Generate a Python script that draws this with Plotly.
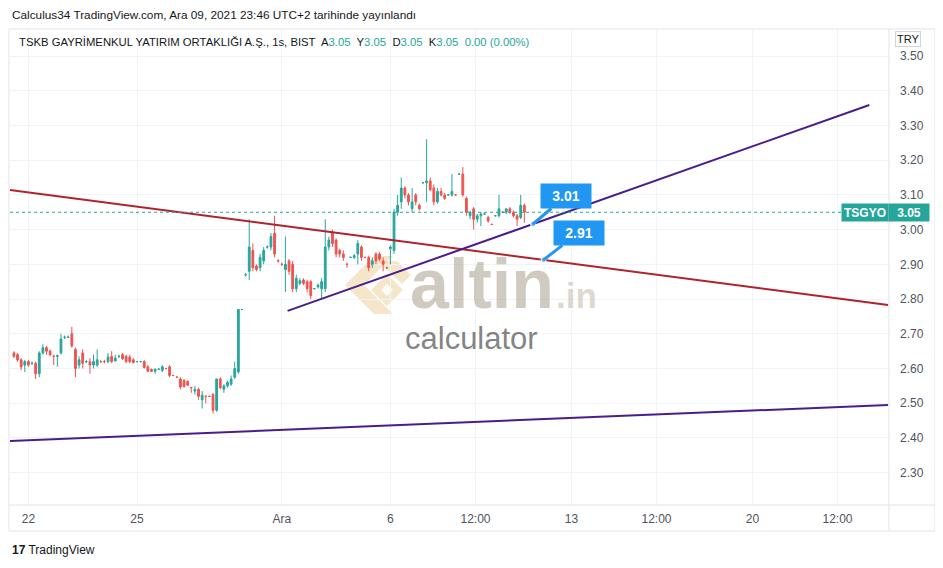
import plotly.graph_objects as go

# ---------------- data (hourly bars) ----------------
opens = [2.645, 2.64, 2.625, 2.61, 2.62, 2.615, 2.615, 2.585, 2.645, 2.66,
         2.65, 2.635, 2.635, 2.645, 2.69, 2.69, 2.70, 2.655, 2.61, 2.645,
         2.62, 2.62, 2.61, 2.61, 2.62, 2.62, 2.62, 2.635, 2.622, 2.635,
         2.64, 2.635, 2.633, 2.625, 2.62, 2.62, 2.62, 2.605, 2.597, 2.592,
         2.598, 2.595, 2.60, 2.605, 2.58, 2.575, 2.57, 2.565, 2.563, 2.545,
         2.535, 2.54, 2.51, 2.52, 2.52, 2.525, 2.48, 2.57, 2.54, 2.55,
         2.555, 2.575, 2.59, 2.77, 2.87, 2.88, 2.94, 2.895, 2.89, 2.91,
         2.95, 2.95, 2.99, 2.91, 2.90, 2.885, 2.91, 2.90, 2.83, 2.845,
         2.855, 2.85, 2.85, 2.83, 2.835, 2.83, 2.83, 2.95, 2.99, 2.97,
         2.94, 2.93, 2.90, 2.92, 2.92, 2.93, 2.95, 2.92, 2.92, 2.90,
         2.93, 2.93, 2.91, 2.89, 2.945, 2.94, 3.05, 3.08, 3.12, 3.10,
         3.06, 3.10, 3.07, 3.135, 3.135, 3.14, 3.12, 3.08, 3.11, 3.10,
         3.10, 3.10, 3.10, 3.16, 3.16, 3.09, 3.04, 3.06, 3.03, 3.04,
         3.045, 3.035, 3.015, 3.04, 3.04, 3.05, 3.05, 3.06, 3.05, 3.04,
         3.035, 3.07]
highs = [2.65, 2.645, 2.63, 2.625, 2.625, 2.62, 2.62, 2.65, 2.67, 2.665,
         2.655, 2.64, 2.64, 2.70, 2.695, 2.695, 2.72, 2.66, 2.635, 2.655,
         2.625, 2.63, 2.64, 2.655, 2.625, 2.625, 2.645, 2.65, 2.64, 2.64,
         2.645, 2.64, 2.64, 2.63, 2.622, 2.622, 2.625, 2.61, 2.60, 2.60,
         2.60, 2.61, 2.602, 2.61, 2.582, 2.577, 2.575, 2.57, 2.565, 2.547,
         2.55, 2.545, 2.535, 2.522, 2.522, 2.53, 2.57, 2.575, 2.555, 2.565,
         2.58, 2.62, 2.77, 2.772, 2.875, 3.03, 2.96, 2.90, 2.93, 2.95,
         2.955, 2.99, 3.04, 2.915, 2.905, 2.98, 2.915, 2.91, 2.87, 2.86,
         2.86, 2.855, 2.855, 2.832, 2.845, 2.86, 3.03, 2.98, 3.00, 2.975,
         2.945, 2.94, 2.905, 2.922, 2.93, 2.97, 2.955, 2.922, 2.925, 2.92,
         2.935, 2.935, 2.92, 2.892, 2.955, 3.06, 3.10, 3.15, 3.125, 3.105,
         3.12, 3.105, 3.075, 3.137, 3.26, 3.15, 3.13, 3.12, 3.12, 3.105,
         3.102, 3.16, 3.102, 3.162, 3.18, 3.095, 3.055, 3.065, 3.045, 3.05,
         3.047, 3.04, 3.017, 3.042, 3.10, 3.052, 3.06, 3.065, 3.055, 3.045,
         3.10, 3.075]
lows = [2.63, 2.62, 2.595, 2.59, 2.605, 2.61, 2.57, 2.575, 2.64, 2.64,
        2.635, 2.61, 2.605, 2.64, 2.685, 2.69, 2.66, 2.575, 2.60, 2.60,
        2.615, 2.585, 2.60, 2.605, 2.615, 2.615, 2.615, 2.615, 2.62, 2.63,
        2.625, 2.615, 2.615, 2.615, 2.618, 2.618, 2.60, 2.59, 2.59, 2.585,
        2.596, 2.59, 2.598, 2.575, 2.578, 2.573, 2.54, 2.545, 2.55, 2.53,
        2.525, 2.51, 2.485, 2.50, 2.518, 2.47, 2.475, 2.54, 2.53, 2.545,
        2.55, 2.57, 2.585, 2.768, 2.865, 2.855, 2.88, 2.88, 2.88, 2.90,
        2.945, 2.94, 2.92, 2.905, 2.895, 2.82, 2.87, 2.82, 2.82, 2.84,
        2.84, 2.82, 2.80, 2.828, 2.83, 2.80, 2.82, 2.94, 2.95, 2.92,
        2.92, 2.91, 2.89, 2.918, 2.915, 2.90, 2.91, 2.918, 2.88, 2.89,
        2.90, 2.91, 2.88, 2.888, 2.90, 2.93, 3.04, 3.06, 3.09, 3.07,
        3.05, 3.07, 3.055, 3.133, 3.08, 3.11, 3.07, 3.075, 3.095, 3.085,
        3.098, 3.095, 3.098, 3.158, 3.095, 3.04, 3.03, 3.00, 3.02, 3.01,
        3.043, 3.02, 3.013, 3.038, 3.035, 3.048, 3.045, 3.045, 3.035, 3.01,
        3.03, 3.02]
closes = [2.635, 2.625, 2.605, 2.62, 2.61, 2.615, 2.585, 2.645, 2.66, 2.65,
          2.64, 2.635, 2.637, 2.685, 2.69, 2.69, 2.665, 2.60, 2.625, 2.615,
          2.62, 2.61, 2.62, 2.625, 2.62, 2.62, 2.633, 2.62, 2.63, 2.635,
          2.628, 2.62, 2.62, 2.617, 2.62, 2.62, 2.603, 2.592, 2.592, 2.598,
          2.598, 2.605, 2.60, 2.58, 2.58, 2.575, 2.547, 2.548, 2.552, 2.545,
          2.54, 2.52, 2.523, 2.52, 2.52, 2.48, 2.57, 2.545, 2.55, 2.56,
          2.57, 2.60, 2.77, 2.77, 2.87, 2.95, 2.89, 2.885, 2.92, 2.94,
          2.95, 2.98, 2.93, 2.91, 2.90, 2.90, 2.88, 2.83, 2.86, 2.853,
          2.845, 2.83, 2.81, 2.83, 2.84, 2.85, 2.95, 2.97, 2.96, 2.93,
          2.93, 2.92, 2.90, 2.92, 2.925, 2.96, 2.92, 2.92, 2.89, 2.91,
          2.91, 2.915, 2.90, 2.89, 2.95, 3.05, 3.07, 3.12, 3.10, 3.08,
          3.08, 3.08, 3.06, 3.135, 3.14, 3.115, 3.08, 3.11, 3.10, 3.09,
          3.10, 3.11, 3.10, 3.16, 3.10, 3.05, 3.05, 3.03, 3.04, 3.045,
          3.045, 3.025, 3.015, 3.04, 3.06, 3.05, 3.06, 3.05, 3.04, 3.03,
          3.07, 3.05]
first_bar = -4                      # bar index of first candle (0 = 22 Kas 10:00)
bars = list(range(first_bar, first_bar + len(closes)))

# time axis (bar index, 10 bars per session)
tick_idx = [0, 30, 70, 100, 123.5, 150, 173.5, 200, 223.5]
tick_txt = ["22", "25", "Ara", "6", "12:00", "13", "12:00", "20", "12:00"]
price_ticks = [2.30, 2.40, 2.50, 2.60, 2.70, 2.80, 2.90, 3.00, 3.10, 3.20, 3.30, 3.40, 3.50]

# drawn trend lines (bar index, price)
red_line_x, red_line_y = [-5.1, 237.5], [3.114, 2.783]
up_line_x, up_line_y = [71.6, 232.3], [2.766, 3.359]
low_line_x, low_line_y = [-5.1, 237.5], [2.391, 2.495]

# callouts on the lines
callout_idx = [139.4, 142.3]
callout_txt = ["3.01", "2.91"]

# ---------------- figure ----------------
OFF = 8                      # page body margin
W, H = 943 - OFF, 568 - OFF
L, R, T, B = 10, 889, 30, 505   # plot box in screenshot pixels
def px(x): return (x - L) / (R - L)
def py(y): return (B - y) / (B - T)

UP, DN = "#26a69a", "#ef5350"
FONT = "Liberation Sans"

fig = go.Figure()
fig.add_trace(go.Candlestick(
    x=bars, open=opens, high=highs, low=lows, close=closes,
    increasing=dict(line=dict(color=UP, width=1), fillcolor=UP),
    decreasing=dict(line=dict(color=DN, width=1), fillcolor=DN),
    whiskerwidth=0, showlegend=False, hoverinfo="skip"))

def interp(xs, ys, x):
    return ys[0] + (ys[1] - ys[0]) * (x - xs[0]) / (xs[1] - xs[0])

for xs, ys, col in [(red_line_x, red_line_y, "#b2222a"),
                    (up_line_x, up_line_y, "#4a1d8c"),
                    (low_line_x, low_line_y, "#4a1d8c")]:
    fig.add_trace(go.Scatter(x=xs, y=ys, mode="lines", line=dict(color=col, width=2),
                             showlegend=False, hoverinfo="skip"))

callout_lines = [(up_line_x, up_line_y), (red_line_x, red_line_y)]
cy = [interp(l[0], l[1], ci) for l, ci in zip(callout_lines, callout_idx)]
fig.add_trace(go.Scatter(x=callout_idx, y=cy, mode="markers",
                         marker=dict(size=5, color="#5fb3f7", line=dict(color="white", width=1)),
                         showlegend=False, hoverinfo="skip"))

shapes = []
shapes.append(dict(type="line", xref="paper", yref="y", x0=0, x1=1, y0=closes[-1], y1=closes[-1],
                   line=dict(color=UP, width=1, dash="dot")))
FR = "#e0e3eb"
shapes.append(dict(type="rect", xref="paper", yref="paper", x0=px(9), x1=px(935), y0=py(531), y1=py(29),
                   line=dict(color=FR, width=1)))
shapes.append(dict(type="line", xref="paper", yref="paper", x0=px(889), x1=px(889), y0=py(531), y1=py(29),
                   line=dict(color=FR, width=1)))
shapes.append(dict(type="line", xref="paper", yref="paper", x0=px(9), x1=px(935), y0=py(505), y1=py(505),
                   line=dict(color=FR, width=1)))

def path(pts):
    return "M " + " L ".join(f"{px(a):.5f},{py(b):.5f}" for a, b in pts) + " Z"
wm = "rgba(236,205,150,0.5)"
shapes.append(dict(type="path", xref="paper", yref="paper", layer="below", line=dict(width=0), fillcolor=wm,
                   path=path([(345, 285), (374, 256), (393, 256), (364, 285), (393, 314), (374, 314)])))
shapes.append(dict(type="path", xref="paper", yref="paper", layer="below", line=dict(width=0), fillcolor=wm,
                   path=path([(378, 261), (397, 261), (411, 275), (402, 284), (387, 270)])))
shapes.append(dict(type="path", xref="paper", yref="paper", layer="below", line=dict(width=0), fillcolor=wm,
                   path=path([(371, 290), (387, 274), (403, 290), (387, 306)])))
shapes.append(dict(type="path", xref="paper", yref="paper", layer="below", line=dict(width=0),
                   fillcolor="rgba(255,255,255,0.85)",
                   path=path([(381, 290), (387, 284), (393, 290), (387, 296)])))

ann = []
ann.append(dict(xref="paper", yref="paper", x=px(10), y=py(15), xanchor="left", yanchor="middle",
                text="Calculus34 TradingView.com, Ara 09, 2021 23:46 UTC+2 tarihinde yayınlandı",
                showarrow=False, font=dict(family=FONT, size=11.8, color="#131722")))
g = lambda s: f'<span style="color:{UP}">{s}</span>'
last = "%.2f" % closes[-1]
hdr = ("TSKB GAYRİMENKUL YATIRIM ORTAKLIĞI A.Ş., 1s, BIST  "
       f"A{g(last)}  Y{g(last)}  D{g(last)}  K{g(last)}  {g('0.00 (0.00%)')}")
ann.append(dict(xref="paper", yref="paper", x=px(17), y=py(42), xanchor="left", yanchor="middle",
                text=hdr, showarrow=False, font=dict(family=FONT, size=11.3, color="#131722")))
ann.append(dict(xref="paper", yref="paper", x=px(408), y=py(284), xanchor="left", yanchor="middle",
                text="<b>altin</b>", showarrow=False,
                font=dict(family=FONT, size=70, color="rgba(170,160,140,0.55)")))
ann.append(dict(xref="paper", yref="paper", x=px(554), y=py(295), xanchor="left", yanchor="middle",
                text="<b>.in</b>", showarrow=False,
                font=dict(family=FONT, size=35, color="rgba(190,180,160,0.5)")))
ann.append(dict(xref="paper", yref="paper", x=px(471), y=py(338), xanchor="center", yanchor="middle",
                text="calculator", showarrow=False,
                font=dict(family=FONT, size=31, color="rgba(110,110,110,0.85)")))
for ci, yv, t, (ax, ay) in zip(callout_idx, cy, callout_txt, [(33, -28), (35, -27)]):
    ann.append(dict(x=ci, y=yv, xref="x", yref="y", text=f"<b>{t}</b>", showarrow=True,
                    arrowhead=0, arrowwidth=3, arrowcolor="#2196f3", ax=ax, ay=ay,
                    bgcolor="#2196f3", width=46, height=20, borderpad=2,
                    font=dict(family=FONT, size=14, color="white")))
ann.append(dict(xref="paper", yref="y", x=px(865), y=closes[-1], text="<b>TSGYO</b>", showarrow=False,
                bgcolor=UP, width=42, height=13, borderpad=2, xanchor="center", yanchor="middle",
                font=dict(family=FONT, size=12, color="white")))
ann.append(dict(xref="paper", yref="y", x=px(909), y=closes[-1], text="<b>%s</b>" % last,
                showarrow=False, bgcolor=UP, width=36, height=13, borderpad=2,
                xanchor="center", yanchor="middle",
                font=dict(family=FONT, size=12, color="white")))
ann.append(dict(xref="paper", yref="paper", x=px(908), y=py(39), text="TRY", showarrow=False,
                xanchor="center", yanchor="middle",
                bordercolor="#d1d4dc", borderwidth=1, borderpad=1,
                font=dict(family=FONT, size=11, color="#131722")))
ann.append(dict(xref="paper", yref="paper", x=px(10), y=py(550), xanchor="left", yanchor="middle",
                text="<b>17</b> TradingView", showarrow=False,
                font=dict(family=FONT, size=12, color="#131722")))

fig.update_layout(
    width=W, height=H, margin=dict(l=L - OFF, r=943 - R, t=T - OFF, b=568 - B),
    paper_bgcolor="white", plot_bgcolor="white",
    shapes=shapes, annotations=ann, showlegend=False,
    font=dict(family=FONT, size=12, color="#50535e"),
    xaxis=dict(range=[(L - 28.4) / 3.62, (R - 28.4) / 3.62], tickvals=tick_idx, ticktext=tick_txt,
               showgrid=True, gridcolor="#f0f3fa", zeroline=False, showline=False, ticks="",
               ticklabelstandoff=5, rangeslider=dict(visible=False), fixedrange=True,
               tickfont=dict(family=FONT, size=12, color="#50535e")),
    yaxis=dict(range=[2.30 - (B - 472.7) / 347.2, 3.50 + (56 - T) / 347.2], side="right",
               tickvals=price_ticks, tickformat=".2f", showgrid=True, gridcolor="#f0f3fa",
               zeroline=False, showline=False, ticks="", ticklabelstandoff=10,
               tickfont=dict(family=FONT, size=12, color="#50535e")),
)
fig.write_html("out.html")
